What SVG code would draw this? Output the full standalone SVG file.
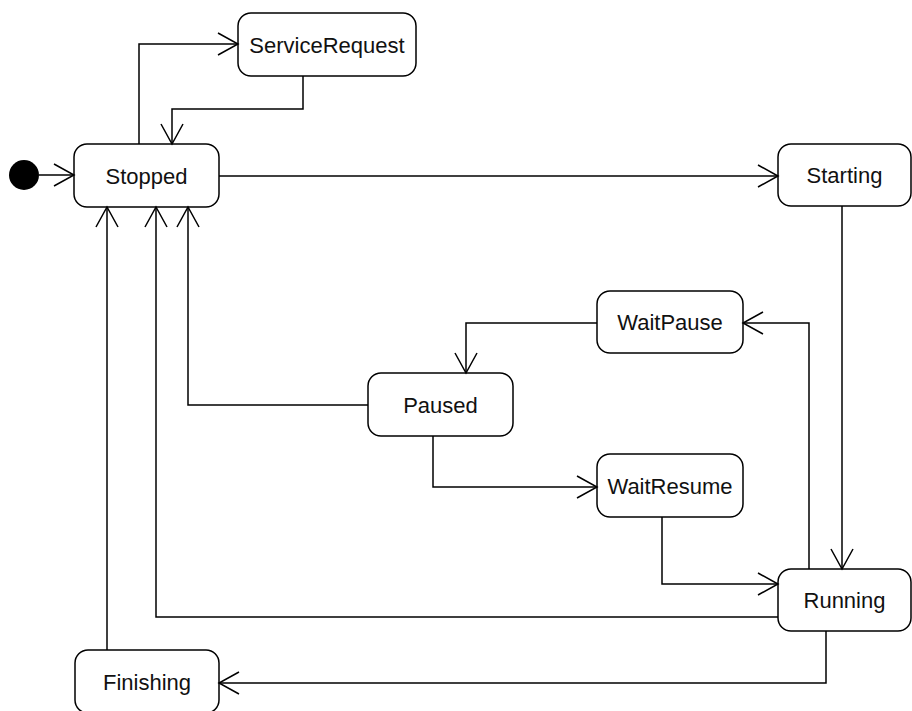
<svg xmlns="http://www.w3.org/2000/svg" width="912" height="711" viewBox="0 0 912 711">
  <defs>
    <marker id="open" markerUnits="userSpaceOnUse" markerWidth="22" markerHeight="24" refX="20" refY="11" orient="auto" overflow="visible">
      <path d="M0,0 L20,11 L0,22" fill="none" stroke="#000" stroke-width="1.5"/>
    </marker>
    <style>
      .state rect { fill: #fff; stroke: #000; stroke-width: 1.5; }
      .state text { font-family: "Liberation Sans", Arial, sans-serif; font-size: 22px; fill: #111; text-anchor: middle; }
      .edges path { fill: none; stroke: #000; stroke-width: 1.5; marker-end: url(#open); }
    </style>
  </defs>
  <rect width="912" height="711" fill="#fff"/>

  <g id="initial">
    <circle cx="24" cy="175" r="15" fill="#000"/>
  </g>

  <g id="stopped" class="state">
    <rect x="74" y="144" width="145" height="63" rx="13"/>
    <text x="146.5" y="183.5">Stopped</text>
  </g>
  <g id="serviceRequest" class="state">
    <rect x="238" y="13" width="178" height="63" rx="13"/>
    <text x="327" y="52.5">ServiceRequest</text>
  </g>
  <g id="starting" class="state">
    <rect x="778" y="144" width="133" height="62" rx="13"/>
    <text x="844.5" y="183">Starting</text>
  </g>
  <g id="waitPause" class="state">
    <rect x="597" y="291" width="146" height="62" rx="13"/>
    <text x="670" y="330">WaitPause</text>
  </g>
  <g id="paused" class="state">
    <rect x="368" y="373" width="145" height="63" rx="13"/>
    <text x="440.5" y="412.5">Paused</text>
  </g>
  <g id="waitResume" class="state">
    <rect x="597" y="454" width="146" height="63" rx="13"/>
    <text x="670" y="493.5">WaitResume</text>
  </g>
  <g id="running" class="state">
    <rect x="778" y="569" width="133" height="62" rx="13"/>
    <text x="844.5" y="608">Running</text>
  </g>
  <g id="finishing" class="state">
    <rect x="75" y="650" width="144" height="63" rx="13"/>
    <text x="147" y="689.5">Finishing</text>
  </g>

  <g id="connectors" class="edges">
    <path d="M39,175 H74"/>
    <path d="M139,144 V44 H238"/>
    <path d="M303,76 V109 H172 V144"/>
    <path d="M219,176 H778"/>
    <path d="M842,206 V569"/>
    <path d="M809,569 V323 H743"/>
    <path d="M597,323 H466 V373"/>
    <path d="M433,436 V487 H597"/>
    <path d="M662,517 V584 H778"/>
    <path d="M778,617 H156 V207"/>
    <path d="M368,405 H188 V207"/>
    <path d="M826,631 V683 H219"/>
    <path d="M107,650 V207"/>
  </g>
</svg>
